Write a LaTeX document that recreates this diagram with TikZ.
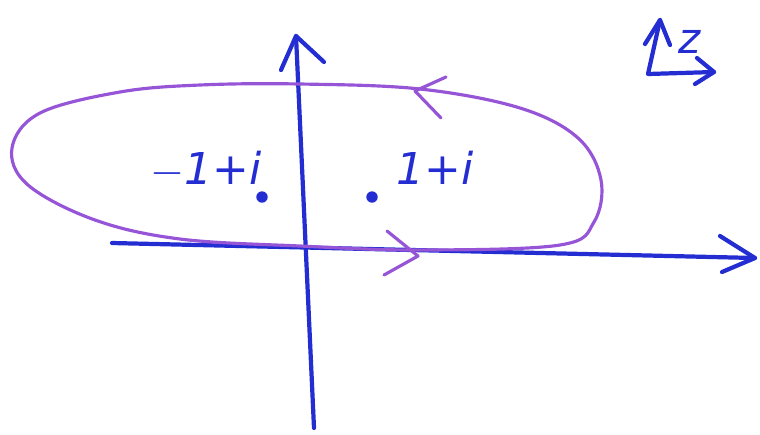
\documentclass[tikz,border=0pt]{standalone}
\usepackage{fontspec}
\setmainfont{DejaVu Sans}
\definecolor{penblue}{RGB}{35,45,210}
\definecolor{penpurple}{RGB}{150,85,215}
\tikzset{
  axisline/.style={draw=penblue, line width=2.4pt, line cap=round, line join=round},
  contourline/.style={draw=penpurple, line width=1.8pt, line cap=round, line join=round},
  pt/.style={circle, fill=penblue, inner sep=0pt, minimum size=6.5pt},
  lbl/.style={text=penblue, font=\fontsize{25}{30}\selectfont\itshape, inner sep=0pt}
}
\begin{document}
\begin{tikzpicture}[x={(0.02cm,0)}, y={(0,-0.02cm)}]
\useasboundingbox (0,0) rectangle (760,434);
% coordinates
\coordinate (xl) at (112,243);
\coordinate (xr) at (755,258);
\coordinate (yb) at (314,428);
\coordinate (yt) at (296,36);
% axes
\draw[axisline] (xl) -- (xr);
\draw[axisline] (720,236) -- (xr) -- (722,272);
\draw[axisline] (yb) -- (yt);
\draw[axisline] (281,70) -- (yt) -- (324,62);
% contour
\draw[contourline] plot[smooth cycle, tension=0.6] coordinates {
  (300,84) (420,89) (520,108) (578,138) (601,180) (594,222) (560,245)
  (420,250) (300,246) (180,239) (95,220) (28,185) (12,148) (40,113) (120,92) (200,85)};
\coordinate (ta) at (415,91);
\draw[contourline] (446,77) -- (ta) -- (441,118);
\coordinate (ba) at (418,256);
\draw[contourline] (387,231) -- (ba) -- (384,275);
% points and labels
\node[pt] (p1) at (262,197) {};
\node[pt] (p2) at (372,197) {};
\node[lbl, anchor=base west] (l1) at (150,184) {$-$1+i};
\node[lbl, anchor=base west] (l2) at (396,184) {1+i};
% z symbol
\coordinate (zc) at (648,74);
\coordinate (zt) at (660,20);
\coordinate (zr) at (714,72);
\draw[axisline] (zt) -- (zc) -- (zr);
\draw[axisline] (645,44) -- (zt) -- (670,45);
\draw[axisline] (697,58) -- (zr) -- (695,84);
\node[lbl, font=\fontsize{24}{28}\selectfont\itshape] (z) at (690,42) {z};
\end{tikzpicture}
\end{document}
